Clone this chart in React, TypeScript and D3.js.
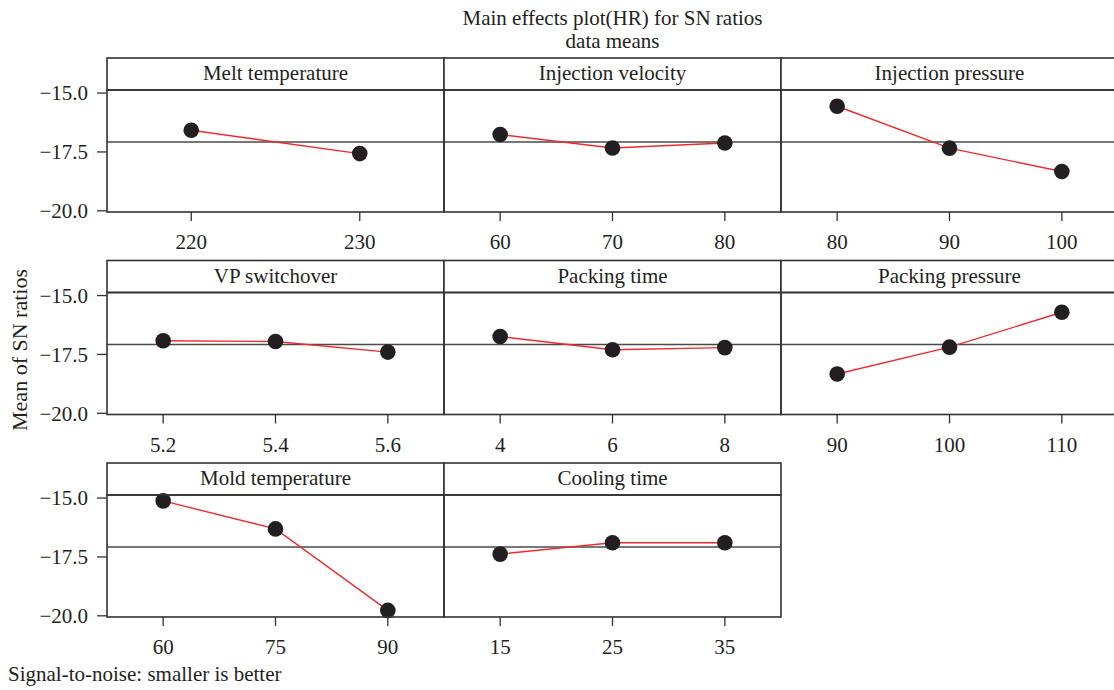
import * as d3 from 'd3';
import React from 'react';

const factorNames = [
  'Melt temperature', 'Injection velocity', 'Injection pressure',
  'VP switchover', 'Packing time', 'Packing pressure',
  'Mold temperature', 'Cooling time',
];

const factorLevels = [
  ['220', '230'],
  ['60', '70', '80'],
  ['80', '90', '100'],
  ['5.2', '5.4', '5.6'],
  ['4', '6', '8'],
  ['90', '100', '110'],
  ['60', '75', '90'],
  ['15', '25', '35'],
];

// mean SN ratio at each level
const factorMeans = [
  [-16.58, -17.57],
  [-16.76, -17.33, -17.12],
  [-15.56, -17.34, -18.33],
  [-16.92, -16.95, -17.40],
  [-16.74, -17.30, -17.21],
  [-18.33, -17.19, -15.71],
  [-15.12, -16.31, -19.77],
  [-17.38, -16.90, -16.90],
];

const yTicks = [-15, -17.5, -20];

const width = 1114, height = 690;
const font = '"Liberation Serif", "Times New Roman", serif';
const fs = 21;
const stripH = 32, plotH = 122;

const App = () => {
  const col = d3.scaleBand<number>().domain([0, 1, 2]).range([107, 1118]);
  const row = d3.scaleBand<number>().domain([0, 1, 2]).range([58, 58 + 3 * 202.5]);
  const panelW = col.bandwidth();

  const y = d3.scaleLinear().domain([-20.05, -14.87]).range([plotH, 0]);
  const grandMean = d3.mean(factorMeans.flat()) as number;

  const line = d3.line<[number, number]>().x(d => d[0]).y(d => d[1]);

  return (
    <svg width={width} height={height} style={{ position: 'absolute', left: 0, top: 0 }}
      fontFamily={font} fill="#231f20">
      <rect width={width} height={height} fill="#fff" />
      <text x={612.5} y={25} fontSize={fs} textAnchor="middle">Main effects plot(HR) for SN ratios</text>
      <text x={612.5} y={48} fontSize={fs} textAnchor="middle">data means</text>

      {factorNames.map((name, i) => {
        const r = Math.floor(i / 3), c = i % 3;
        const x0 = col(c) as number, y0 = row(r) as number;
        const py = y0 + stripH;
        const x = d3.scalePoint<string>().domain(factorLevels[i]).range([0, panelW]).padding(0.5);
        const pts: [number, number][] = factorLevels[i].map((lv, k) => [x(lv) as number, y(factorMeans[i][k])]);
        return (
          <g key={name}>
            {/* strip */}
            <rect x={x0} y={y0} width={panelW} height={stripH} fill="#fff" stroke="#333" strokeWidth={1.6} />
            <text x={x0 + panelW / 2} y={y0 + 22} fontSize={fs} textAnchor="middle">{name}</text>
            <g transform={`translate(${x0},${py})`}>
              <line x1={0} x2={panelW} y1={y(grandMean)} y2={y(grandMean)} stroke="#4a4a4a" strokeWidth={1.4} />
              <path d={line(pts) as string} fill="none" stroke="#ee2a2e" strokeWidth={1.4} />
              {pts.map((p, k) => (
                <circle key={k} cx={p[0]} cy={p[1]} r={7.8} fill="#231f20" />
              ))}
              <rect x={0} y={0} width={panelW} height={plotH} fill="none" stroke="#333" strokeWidth={1.6} />
              {factorLevels[i].map(lv => (
                <g key={lv} transform={`translate(${x(lv)},${plotH})`}>
                  <line y1={0} y2={9} stroke="#333" strokeWidth={1.3} />
                  <text y={37} fontSize={fs} textAnchor="middle">{lv}</text>
                </g>
              ))}
              {c === 0 && yTicks.map(t => (
                <g key={t} transform={`translate(0,${y(t)})`}>
                  <line x1={-10} x2={0} stroke="#333" strokeWidth={1.3} />
                  <text x={-19} dy="0.35em" fontSize={fs} textAnchor="end">{d3.format('.1f')(t).replace('-', '\u2212')}</text>
                </g>
              ))}
            </g>
          </g>
        );
      })}

      <text transform="translate(27,350) rotate(-90)" fontSize={22} textAnchor="middle">Mean of SN ratios</text>
      <text x={8} y={681} fontSize={fs}>Signal-to-noise: smaller is better</text>
    </svg>
  );
};

export default App;
